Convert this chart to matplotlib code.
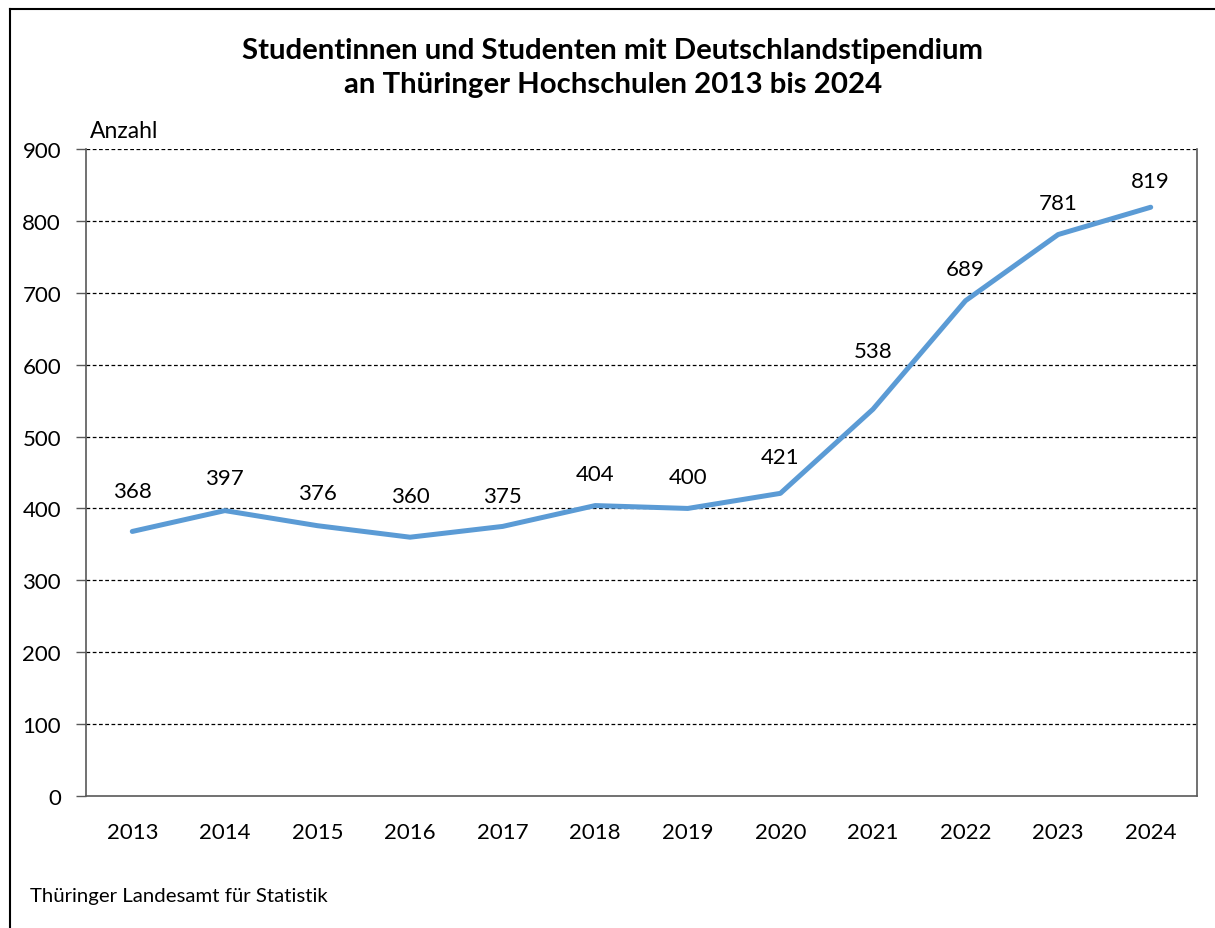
import matplotlib.pyplot as plt
import numpy as np

jahre = ['2013', '2014', '2015', '2016', '2017', '2018',
         '2019', '2020', '2021', '2022', '2023', '2024']
anzahl = [368, 397, 376, 360, 375, 404, 400, 421, 538, 689, 781, 819]
y_ticks = [0, 100, 200, 300, 400, 500, 600, 700, 800, 900]

# Abstand der Datenbeschriftung über dem Punkt (Pixel), wie im Original verschoben
label_abstand = [40, 33, 33, 41, 30, 32, 31, 36, 58, 32, 32, 26]

plt.rcParams['font.family'] = ['Lato', 'DejaVu Sans']

fig = plt.figure(figsize=(12.15, 9.29), dpi=100)
ax = fig.add_axes([86 / 1215, 1 - 797 / 929, (1197 - 86) / 1215, (797 - 150) / 929])

x = np.arange(len(jahre))
ax.plot(x, anzahl, color='#5b9bd5', linewidth=3.6, solid_capstyle='round', zorder=3)

for xi, v, d in zip(x, anzahl, label_abstand):
    ax.annotate(str(v), (xi, v), xytext=(0, d), textcoords='offset pixels',
                ha='center', va='center', fontsize=16)

ax.set_xlim(-0.5, len(jahre) - 0.5)
ax.set_ylim(0, 900)
ax.set_yticks(y_ticks)
ax.set_xticks(x)
ax.set_xticklabels(jahre)
ax.tick_params(axis='y', length=7, width=1, color='#595959', labelsize=16, pad=11)
ax.tick_params(axis='x', length=0, labelsize=16, pad=19)

for yt in y_ticks[1:]:
    ax.axhline(yt, color='black', linestyle=(0, (3, 2)), linewidth=0.9, zorder=1)

ax.spines['top'].set_visible(False)
for s in ['left', 'right', 'bottom']:
    ax.spines[s].set_color('#595959')
    ax.spines[s].set_linewidth(1.2)

fig.text(90 / 1215, 1 - 131 / 929, 'Anzahl', fontsize=16.5, ha='left', va='center')
fig.text(613 / 1215, 1 - 68 / 929,
         'Studentinnen und Studenten mit Deutschlandstipendium\nan Thüringer Hochschulen 2013 bis 2024',
         fontsize=21.2, fontweight='bold', ha='center', va='center', linespacing=1.38)
fig.text(30 / 1215, 1 - 897 / 929, 'Thüringer Landesamt für Statistik',
         fontsize=14.7, ha='left', va='center')

# Rahmen links und oben
fig.add_artist(plt.Line2D([10 / 1215, 10 / 1215], [0, 1 - 10 / 929], color='black', linewidth=1.5))
fig.add_artist(plt.Line2D([10 / 1215, 1], [1 - 10 / 929, 1 - 10 / 929], color='black', linewidth=1.5))

fig.savefig('out.png', dpi=100)
